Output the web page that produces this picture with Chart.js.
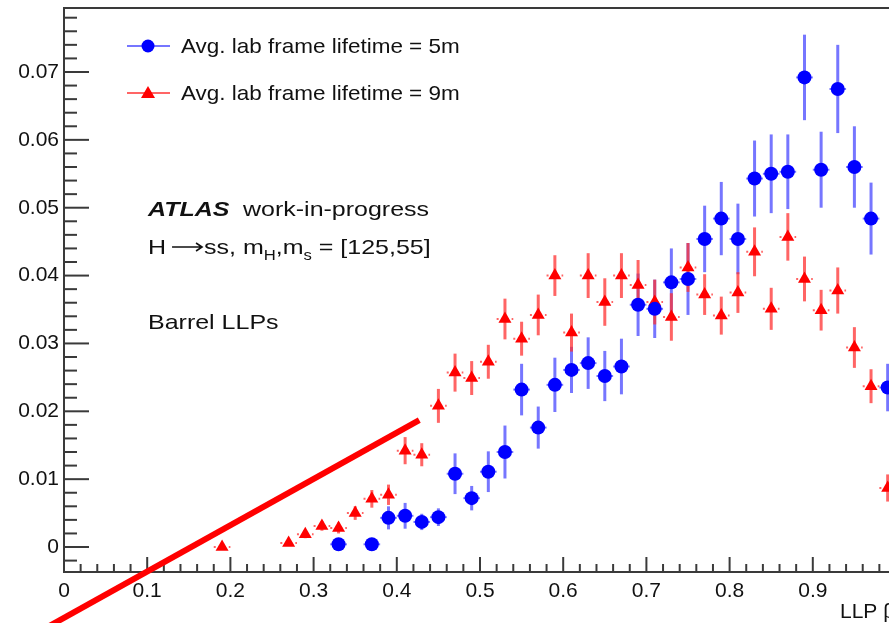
<!DOCTYPE html>
<html>
<head>
<meta charset="utf-8">
<script src="https://cdn.jsdelivr.net/npm/chart.js@4.4.0/dist/chart.umd.min.js"></script>
<style>
  html, body { margin: 0; padding: 0; background: #fff; overflow: hidden; }
  #wrap { width: 920px; height: 623px; }
</style>
</head>
<body>
<div id="wrap"><canvas id="chart" width="920" height="623"></canvas></div>
<script>
// 5m lifetime (blue circles)
const blueX = [0.33, 0.37, 0.39, 0.41, 0.43, 0.45, 0.47, 0.49, 0.51, 0.53, 0.55, 0.57, 0.59, 0.61, 0.63, 0.65, 0.67,
  0.69, 0.71, 0.73, 0.75, 0.77, 0.79, 0.81, 0.83, 0.85, 0.87, 0.89, 0.91, 0.93, 0.95, 0.97, 0.99];
const blueY = [0.0004, 0.0004, 0.0043, 0.0046, 0.0037, 0.0044, 0.0108, 0.0072, 0.0111, 0.0140, 0.0232, 0.0176, 0.0239,
  0.0261, 0.0271, 0.0252, 0.0266, 0.0357, 0.0351, 0.0390, 0.0395, 0.0454, 0.0484, 0.0454, 0.0543, 0.0550, 0.0553,
  0.0692, 0.0556, 0.0675, 0.0560, 0.0484, 0.0235];
const blueErr = [0.0003, 0.0003, 0.0017, 0.0019, 0.0012, 0.0013, 0.0030, 0.0018, 0.0030, 0.0039, 0.0038, 0.0031, 0.0040,
  0.0034, 0.0038, 0.0037, 0.0041, 0.0046, 0.0043, 0.0050, 0.0053, 0.0049, 0.0054, 0.0052, 0.0056, 0.0058, 0.0055,
  0.0063, 0.0056, 0.0065, 0.0060, 0.0053, 0.0035];

// 9m lifetime (red triangles)
const redX = [0.19, 0.27, 0.29, 0.31, 0.33, 0.35, 0.37, 0.39, 0.41, 0.43, 0.45, 0.47, 0.49, 0.51, 0.53, 0.55, 0.57, 0.59,
  0.61, 0.63, 0.65, 0.67, 0.69, 0.71, 0.73, 0.75, 0.77, 0.79, 0.81, 0.83, 0.85, 0.87, 0.89, 0.91, 0.93, 0.95, 0.97, 0.99];
const redY = [0.0000, 0.0006, 0.0019, 0.0031, 0.0028, 0.0050, 0.0071, 0.0077, 0.0142, 0.0136, 0.0208, 0.0257, 0.0249,
  0.0273, 0.0336, 0.0307, 0.0342, 0.0400, 0.0316, 0.0400, 0.0361, 0.0400, 0.0386, 0.0361, 0.0339, 0.0412, 0.0372,
  0.0341, 0.0375, 0.0435, 0.0351, 0.0457, 0.0395, 0.0349, 0.0378, 0.0294, 0.0237, 0.0087];
const redErr = [0.0003, 0.0004, 0.0006, 0.0007, 0.0008, 0.0010, 0.0013, 0.0015, 0.0020, 0.0017, 0.0025, 0.0028, 0.0025,
  0.0025, 0.0030, 0.0025, 0.0030, 0.0030, 0.0028, 0.0033, 0.0035, 0.0033, 0.0037, 0.0033, 0.0035, 0.0036, 0.0030,
  0.0028, 0.0030, 0.0036, 0.0031, 0.0035, 0.0033, 0.0030, 0.0034, 0.0030, 0.0025, 0.0020];
const binHalfWidth = 0.01;

// red hand-drawn stroke over the plot
const annotX = [-0.02, 0.427];
const annotY = [-0.0118, 0.0187];

const xTicks = [0, 0.1, 0.2, 0.3, 0.4, 0.5, 0.6, 0.7, 0.8, 0.9, 1.0];
const xTickLabels = ['0', '0.1', '0.2', '0.3', '0.4', '0.5', '0.6', '0.7', '0.8', '0.9', '1'];
const yTicks = [0, 0.01, 0.02, 0.03, 0.04, 0.05, 0.06, 0.07];
const yTickLabels = ['0', '0.01', '0.02', '0.03', '0.04', '0.05', '0.06', '0.07'];

const FONT = '"Liberation Sans", Arial, Helvetica, sans-serif';
const toPoints = (xs, ys) => xs.map((x, i) => ({ x: x, y: ys[i] }));

// ROOT text renders a bit wider than Liberation Sans, stretch it horizontally
function wideText(ctx, txt, x, y, sx) {
  ctx.save();
  ctx.translate(x, y);
  ctx.scale(sx, 1);
  ctx.fillText(txt, 0, 0);
  ctx.restore();
  return ctx.measureText(txt).width * sx;
}

function drawErrors(ctx, chart, index) {
  const ds = chart.data.datasets[index];
  const meta = chart.getDatasetMeta(index);
  const xs = chart.scales.x, ys = chart.scales.y;
  meta.data.forEach((pt, i) => {
    const d = ds.data[i];
    const top = ys.getPixelForValue(d.y + ds.errors[i]);
    const bot = ys.getPixelForValue(d.y - ds.errors[i]);
    const l = xs.getPixelForValue(d.x - binHalfWidth);
    const r = xs.getPixelForValue(d.x + binHalfWidth);
    ctx.save();
    ctx.strokeStyle = ds.errColor;
    ctx.lineWidth = 3;
    ctx.beginPath();
    ctx.moveTo(pt.x, top);
    ctx.lineTo(pt.x, bot);
    ctx.stroke();
    ctx.lineWidth = 2;
    if (ds.dashedX) ctx.setLineDash([2, 3]);
    ctx.beginPath();
    ctx.moveTo(l, pt.y);
    ctx.lineTo(r, pt.y);
    ctx.stroke();
    ctx.restore();
  });
}

const rootStyle = {
  id: 'rootStyle',
  beforeDatasetsDraw(chart) {
    const ctx = chart.ctx;
    const area = chart.chartArea;
    const xs = chart.scales.x, ys = chart.scales.y;
    ctx.save();
    ctx.strokeStyle = '#3a3a3a';
    ctx.lineWidth = 2;
    // frame
    ctx.strokeRect(area.left, area.top, area.right - area.left, area.bottom - area.top);
    // x ticks (inward)
    for (let k = 0; k <= 50; k++) {
      const px = xs.getPixelForValue(k * 0.02);
      const len = k % 5 === 0 ? 15 : 8;
      ctx.beginPath();
      ctx.moveTo(px, area.bottom);
      ctx.lineTo(px, area.bottom - len);
      ctx.stroke();
    }
    // y ticks (inward)
    for (let k = -1; k <= 39; k++) {
      const py = ys.getPixelForValue(k * 0.002);
      if (py < area.top + 1) continue;
      const len = k % 5 === 0 ? 25 : 13;
      ctx.beginPath();
      ctx.moveTo(area.left, py);
      ctx.lineTo(area.left + len, py);
      ctx.stroke();
    }
    // tick labels
    ctx.fillStyle = '#111';
    ctx.font = '21px ' + FONT;
    ctx.textAlign = 'center';
    ctx.textBaseline = 'alphabetic';
    xTicks.forEach((v, i) => ctx.fillText(xTickLabels[i], xs.getPixelForValue(v), area.bottom + 25));
    ctx.textAlign = 'right';
    ctx.textBaseline = 'middle';
    yTicks.forEach((v, i) => ctx.fillText(yTickLabels[i], area.left - 5, ys.getPixelForValue(v)));
    // axis title
    ctx.textAlign = 'left';
    ctx.textBaseline = 'alphabetic';
    ctx.fillText('LLP \u03b2', 840, 618);
    ctx.restore();

    drawErrors(ctx, chart, 0);
    drawErrors(ctx, chart, 1);
  },
  afterDatasetsDraw(chart) {
    const ctx = chart.ctx;
    const area = chart.chartArea;
    ctx.save();
    // legend
    [0, 1].forEach((idx, r) => {
      const ds = chart.data.datasets[idx];
      const y = area.top + 38 + r * 47;
      const x0 = area.left + 63;
      ctx.strokeStyle = ds.errColor;
      ctx.lineWidth = 2;
      ctx.beginPath();
      ctx.moveTo(x0, y);
      ctx.lineTo(x0 + 43, y);
      ctx.stroke();
      ctx.fillStyle = ds.backgroundColor;
      ctx.beginPath();
      if (ds.pointStyle === 'circle') {
        ctx.arc(x0 + 21, y, 6.5, 0, Math.PI * 2);
      } else {
        ctx.moveTo(x0 + 21, y - 7);
        ctx.lineTo(x0 + 28, y + 5);
        ctx.lineTo(x0 + 14, y + 5);
        ctx.closePath();
      }
      ctx.fill();
      ctx.fillStyle = '#111';
      ctx.font = '21px ' + FONT;
      ctx.textAlign = 'left';
      ctx.textBaseline = 'middle';
      wideText(ctx, ds.label, x0 + 54, y + 1, 1.07);
    });

    // ATLAS label block
    const sx = 1.19;
    const tx = area.left + 84;
    ctx.textBaseline = 'alphabetic';
    ctx.font = 'italic bold 21px ' + FONT;
    wideText(ctx, 'ATLAS', tx, 216, sx);
    ctx.font = '21px ' + FONT;
    wideText(ctx, 'work-in-progress', tx + 95, 216, sx);

    let x = tx;
    const yb = 254;
    const piece = (txt, size, dy, s) => {
      ctx.font = size + 'px ' + FONT;
      x += wideText(ctx, txt, x, yb + dy, s || sx);
    };
    piece('H', 21, 0);
    x += 6;
    ctx.save();
    ctx.lineWidth = 1.6;
    ctx.strokeStyle = '#111';
    ctx.beginPath();
    ctx.moveTo(x, yb - 7);
    ctx.lineTo(x + 29, yb - 7);
    ctx.moveTo(x + 24, yb - 11);
    ctx.lineTo(x + 30, yb - 7);
    ctx.lineTo(x + 24, yb - 3);
    ctx.stroke();
    ctx.restore();
    x += 32;
    piece('ss, m', 21, 0);
    piece('H', 14, 6);
    piece(',m', 21, 0);
    piece('s', 14, 6);
    piece(' = [125,55]', 21, 0);

    ctx.font = '21px ' + FONT;
    wideText(ctx, 'Barrel LLPs', tx, 329, sx);
    ctx.restore();
  }
};

new Chart(document.getElementById('chart'), {
  type: 'scatter',
  data: {
    datasets: [
      {
        label: 'Avg. lab frame lifetime = 5m',
        data: toPoints(blueX, blueY),
        errors: blueErr,
        errColor: 'rgba(60,60,255,0.7)',
        dashedX: false,
        pointStyle: 'circle',
        pointRadius: 7,
        backgroundColor: '#0000ff',
        borderColor: '#0000ff',
        borderWidth: 0
      },
      {
        label: 'Avg. lab frame lifetime = 9m',
        data: toPoints(redX, redY),
        errors: redErr,
        errColor: 'rgba(255,50,50,0.75)',
        dashedX: true,
        pointStyle: 'triangle',
        pointRadius: 7.5,
        backgroundColor: '#ff0000',
        borderColor: '#ff0000',
        borderWidth: 0
      },
      {
        type: 'line',
        label: 'annotation',
        data: toPoints(annotX, annotY),
        borderColor: '#ff0000',
        borderWidth: 6,
        pointRadius: 0,
        clip: false,
        fill: false
      }
    ]
  },
  options: {
    responsive: false,
    animation: false,
    events: [],
    layout: { padding: { left: 64, top: 8, right: 24, bottom: 51 } },
    plugins: { legend: { display: false }, tooltip: { enabled: false } },
    scales: {
      x: { type: 'linear', min: 0, max: 1.0, display: false },
      y: { type: 'linear', min: -0.00368, max: 0.07943, display: false }
    }
  },
  plugins: [rootStyle]
});
</script>
</body>
</html>
